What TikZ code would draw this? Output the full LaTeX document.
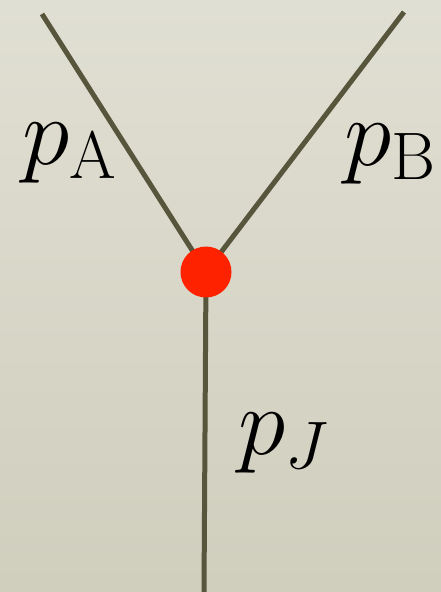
\RequirePackage{fix-cm}
\documentclass[tikz,border=0pt]{standalone}
\definecolor{bgtop}{RGB}{224,223,211}
\definecolor{bgbot}{RGB}{208,206,189}
\definecolor{wire}{RGB}{87,85,60}
\definecolor{dotred}{RGB}{255,34,0}
\tikzset{
  wireline/.style={draw=wire, line width=5pt},
  junction/.style={circle, fill=dotred, minimum size=51pt, inner sep=0pt},
  lbl/.style={anchor=base west, inner sep=0pt, font=\fontsize{96}{115}\selectfont}
}
\begin{document}
\begin{tikzpicture}[x=1pt,y=-1pt]
\shade[top color=bgtop, bottom color=bgbot] (0,0) rectangle (441,592);
\useasboundingbox (0,0) rectangle (441,592);
\coordinate (jc) at (206,272);
\coordinate (a) at (42,14);
\coordinate (b) at (404,12);
\coordinate (c) at (204,592);
\draw[wireline] (a) -- (jc);
\draw[wireline] (b) -- (jc);
\draw[wireline] (jc) -- (c);
\node[junction] (j) at (jc) {};
\node[lbl] (la) at (22,164) {$p_{\mathrm{A}}$};
\node[lbl] (lb) at (344,165) {$p_{\mathrm{B}}$};
\node[lbl] (lj) at (238,454) {$p_J$};
\end{tikzpicture}
\end{document}
